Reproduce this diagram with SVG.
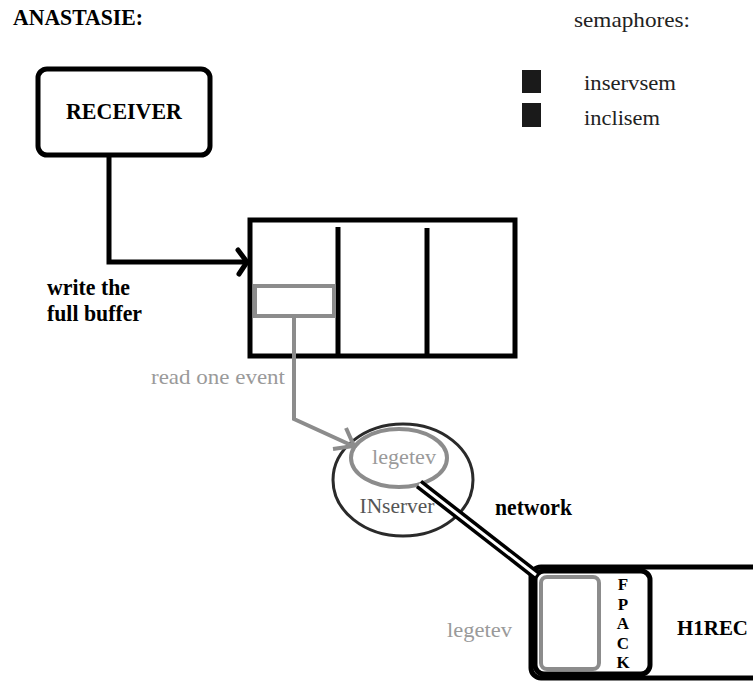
<svg xmlns="http://www.w3.org/2000/svg" width="753" height="682" viewBox="0 0 753 682">
<style>
.b{font-family:"Liberation Serif","Times New Roman",serif;font-weight:bold;fill:#000}
.r{font-family:"Liberation Serif","Times New Roman",serif;fill:#222}
.g{font-family:"Liberation Serif","Times New Roman",serif;fill:#9a9a9a}
.box{fill:#fff;stroke:#000;stroke-width:5}
.gray{fill:none;stroke:#8c8c8c;stroke-width:4}
.wire{fill:none;stroke:#000;stroke-width:5;stroke-linejoin:miter}
.fp{font-family:"Liberation Serif","Times New Roman",serif;font-weight:bold;fill:#000;font-size:17px;text-anchor:middle}
</style>
<rect width="753" height="682" fill="#fff"/>
<text class="b" x="13" y="25" font-size="22.5" textLength="130" lengthAdjust="spacingAndGlyphs">ANASTASIE:</text>
<g id="legend">
<text class="r" x="574" y="27" font-size="22" textLength="116" lengthAdjust="spacingAndGlyphs">semaphores:</text>
<rect x="522" y="70" width="19" height="23" fill="#1a1a1a"/>
<rect x="522" y="103" width="19" height="24" fill="#1a1a1a"/>
<text class="r" x="584" y="90" font-size="22" textLength="92" lengthAdjust="spacingAndGlyphs">inservsem</text>
<text class="r" x="584" y="125" font-size="22" textLength="76" lengthAdjust="spacingAndGlyphs">inclisem</text>
</g>
<g id="receiver">
<rect class="box" x="38" y="69" width="172" height="86" rx="9"/>
<text class="b" x="124" y="119" font-size="24" text-anchor="middle" textLength="116" lengthAdjust="spacingAndGlyphs">RECEIVER</text>
</g>
<g id="buffer">
<rect class="box" x="250" y="220" width="265" height="136"/>
<line x1="338" y1="227" x2="338" y2="356" stroke="#000" stroke-width="5"/>
<line x1="427" y1="228" x2="427" y2="356" stroke="#000" stroke-width="5"/>
<rect class="gray" x="255" y="286" width="79" height="30"/>
</g>
<g id="inserver">
<ellipse cx="403" cy="480" rx="70" ry="56" fill="none" stroke="#2a2a2a" stroke-width="3"/>
<ellipse cx="399" cy="458" rx="48" ry="29" fill="#fff" class="gray"/>
<text class="g" x="404" y="464" font-size="21" text-anchor="middle" textLength="64" lengthAdjust="spacingAndGlyphs">legetev</text>
<text x="397" y="513" font-size="22" text-anchor="middle" font-family="Liberation Serif, serif" fill="#555" textLength="75" lengthAdjust="spacingAndGlyphs">INserver</text>
</g>
<g id="hirec">
<rect class="box" x="531" y="567" width="240" height="111" rx="10"/>
<rect class="box" x="535" y="571" width="115" height="103" rx="9"/>
<rect class="gray" x="541" y="577" width="58" height="92" rx="6"/>
<text class="fp" x="623" y="590">F</text>
<text class="fp" x="623" y="609.5">P</text>
<text class="fp" x="623" y="629">A</text>
<text class="fp" x="623" y="648.5">C</text>
<text class="fp" x="623" y="668">K</text>
<text class="b" x="677" y="635" font-size="22" textLength="71" lengthAdjust="spacingAndGlyphs">H1REC</text>
<text class="g" x="447" y="637" font-size="20" textLength="65" lengthAdjust="spacingAndGlyphs">legetev</text>
</g>
<g id="connectors">
<path class="wire" d="M109 157 V262 H245"/>
<path class="wire" d="M238 250 L247 262 L239 274" stroke-linecap="round"/>
<path class="gray" d="M294 318 V419 L353 446"/>
<path class="gray" d="M346 428 L354 446 L333 449" stroke-width="3"/>
<line x1="419" y1="484" x2="536" y2="575" stroke="#000" stroke-width="10"/>
<line x1="419" y1="484" x2="536" y2="575" stroke="#fff" stroke-width="3"/>
</g>
<g id="labels">
<text class="b" x="47" y="295" font-size="23" textLength="83" lengthAdjust="spacingAndGlyphs">write the</text>
<text class="b" x="47" y="321" font-size="23" textLength="95" lengthAdjust="spacingAndGlyphs">full buffer</text>
<text class="g" x="151" y="384" font-size="22" textLength="134" lengthAdjust="spacingAndGlyphs">read one event</text>
<text class="b" x="495" y="515" font-size="23" textLength="77" lengthAdjust="spacingAndGlyphs">network</text>
</g>
</svg>
